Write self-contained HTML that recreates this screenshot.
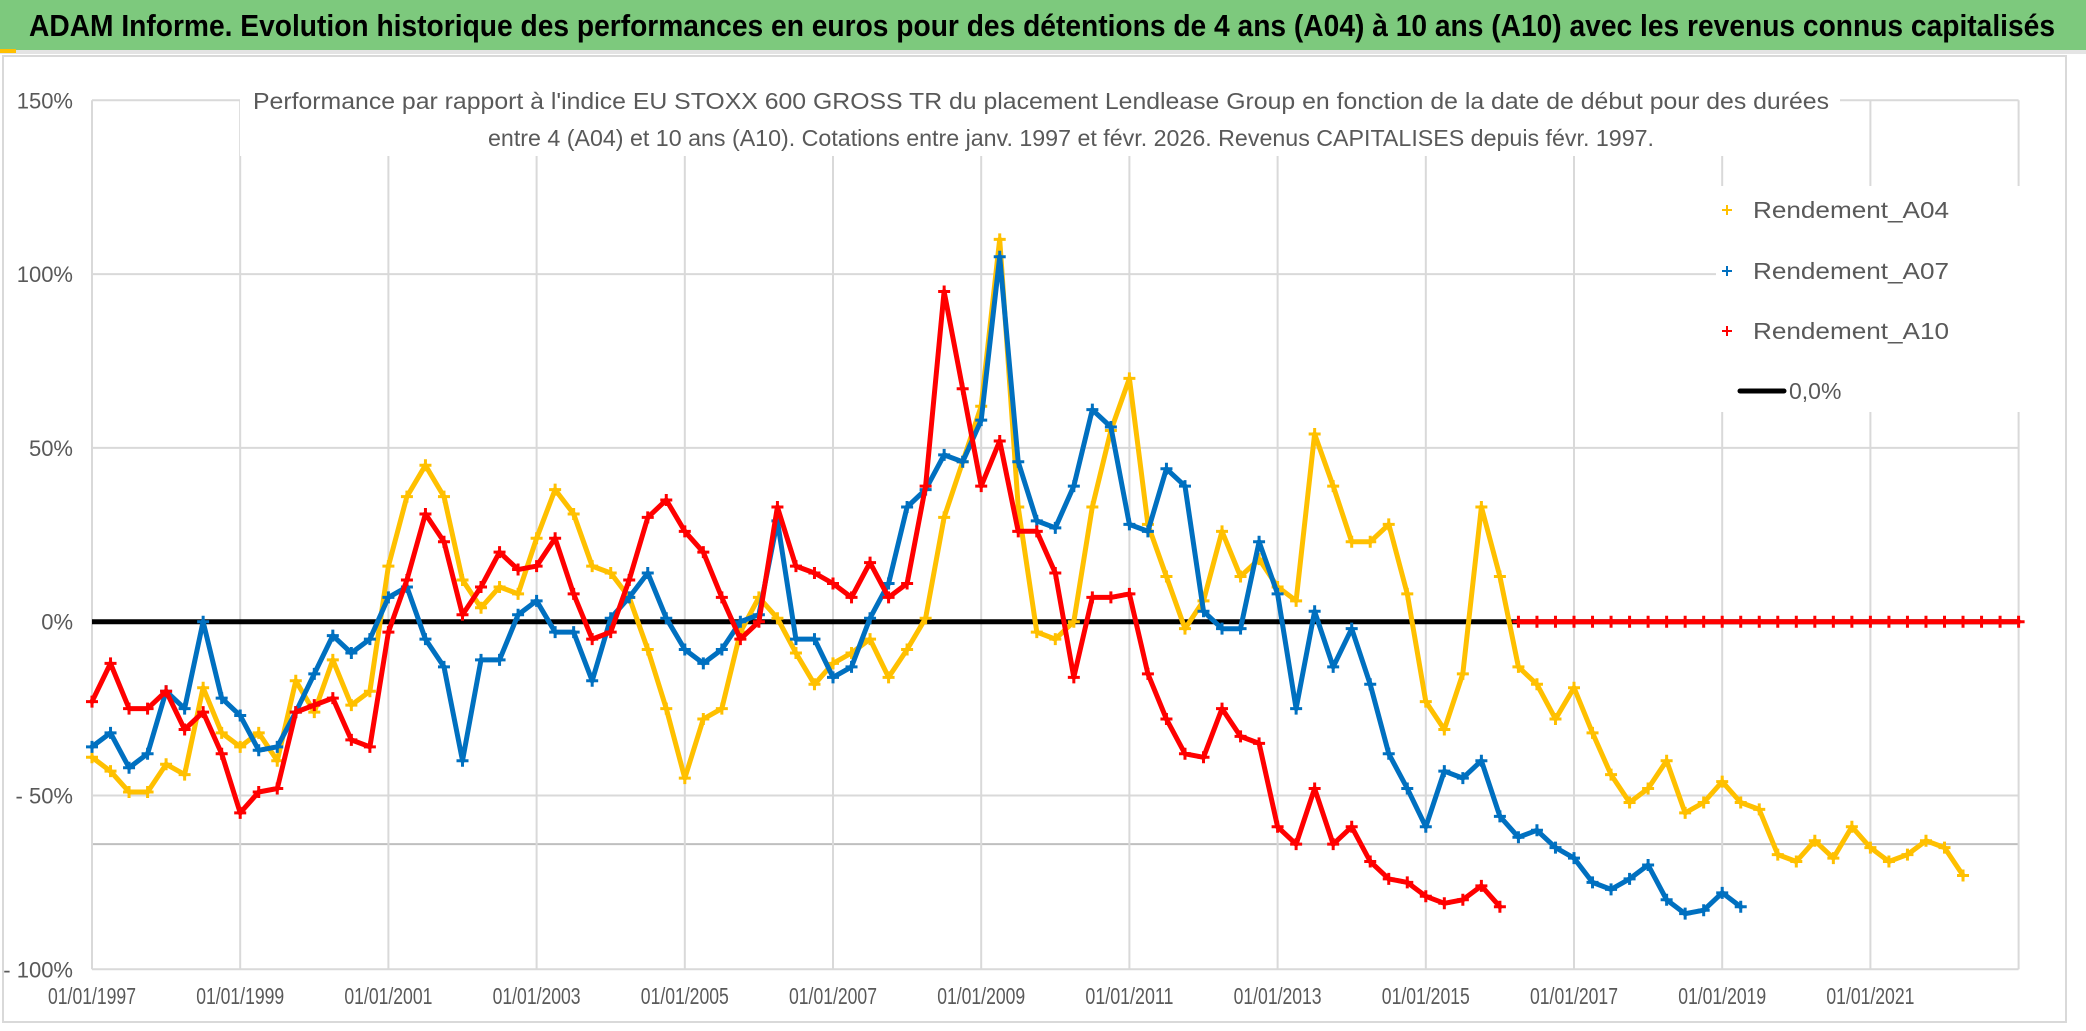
<!DOCTYPE html>
<html><head><meta charset="utf-8">
<style>
html,body{margin:0;padding:0;background:#fff;}
svg{display:block;}
text{font-family:"Liberation Sans Narrow","Liberation Sans",sans-serif;}
</style></head>
<body>
<svg id="chart" width="2086" height="1031" viewBox="0 0 2086 1031" xmlns="http://www.w3.org/2000/svg">
  <rect x="0" y="0" width="2086" height="1031" fill="#ffffff"/>
  <rect x="3" y="56" width="2063" height="966" fill="none" stroke="#d9d9d9" stroke-width="2"/>
  <rect x="0" y="0" width="2086" height="50" fill="#7dc97d"/>
  <rect x="0" y="50" width="2086" height="4" fill="#e4e4e4"/>
  <rect x="0" y="49" width="16" height="4" fill="#ffc000"/>
  <text x="29" y="36" font-size="31" font-weight="bold" fill="#000" textLength="2026" lengthAdjust="spacingAndGlyphs">ADAM Informe. Evolution historique des performances en euros pour des détentions de 4 ans (A04) à 10 ans (A10) avec les revenus connus capitalisés</text>
  <g id="grid"></g>
  <g id="marks"></g>
  <rect x="240" y="80" width="1600" height="76" fill="#ffffff"/>
  <text x="253" y="109" font-size="23" fill="#595959" textLength="1576" lengthAdjust="spacingAndGlyphs">Performance  par rapport à l'indice EU STOXX 600 GROSS TR  du placement Lendlease Group en fonction de la date de début pour des durées</text>
  <text x="488" y="146" font-size="23" fill="#595959" textLength="1166" lengthAdjust="spacingAndGlyphs">entre 4 (A04) et 10 ans (A10). Cotations entre janv. 1997 et févr. 2026. Revenus CAPITALISES depuis févr. 1997.</text>
  <g id="axes"></g>
  <g id="legend">
    <rect x="1716" y="186" width="306" height="226" fill="#ffffff"/>
    <g>
      <path d="M1722 210h10M1727 205v10" stroke="#ffc000" stroke-width="2"/>
      <text x="1753" y="218" font-size="23" fill="#595959" textLength="196" lengthAdjust="spacingAndGlyphs">Rendement_A04</text>
    </g>
    <g>
      <path d="M1722 271h10M1727 266v10" stroke="#0070c0" stroke-width="2"/>
      <text x="1753" y="279" font-size="23" fill="#595959" textLength="196" lengthAdjust="spacingAndGlyphs">Rendement_A07</text>
    </g>
    <g>
      <path d="M1722 331h10M1727 326v10" stroke="#ff0000" stroke-width="2"/>
      <text x="1753" y="339" font-size="23" fill="#595959" textLength="196" lengthAdjust="spacingAndGlyphs">Rendement_A10</text>
    </g>
    <g>
      <line x1="1740" y1="391" x2="1784" y2="391" stroke="#000" stroke-width="5" stroke-linecap="round"/>
      <text x="1789" y="399" font-size="23" fill="#595959">0,0%</text>
    </g>
  </g>
</svg>
<script>
const startYear = 1997;
const stepYears = 0.25;
const yTicks = [150, 100, 50, 0, -50, -100];
const yTickLabels = ["150%", "100%", "50%", "0%", "- 50%", "- 100%"];
const xTickYears = [1997,1999,2001,2003,2005,2007,2009,2011,2013,2015,2017,2019,2021];
const xTickLabels = ["01/01/1997","01/01/1999","01/01/2001","01/01/2003","01/01/2005","01/01/2007","01/01/2009","01/01/2011","01/01/2013","01/01/2015","01/01/2017","01/01/2019","01/01/2021"];
const refLineValue = -64;
const a04 = [-39,-43,-49,-49, -41,-44,-19,-32, -36,-32,-40,-17, -26,-11,-24,-20, 16,36,45,36, 12,4,10,8, 24,38,31,16, 14,7,-8,-25, -45,-28,-25,-3, 7,1,-9,-18, -12,-9,-5,-16, -8,1,30,46, 62,110,33,-3, -5,0,33,55, 70,28,13,-2, 6,26,13,18, 10,6,54,39, 23,23,28,8, -23,-31,-15,33, 13,-13,-18,-28, -19,-32,-44,-52, -48,-40,-55,-52, -46,-52,-54,-67, -69,-63,-68,-59, -65,-69,-67,-63, -65,-73];
const a07 = [-36,-32,-42,-38, -20,-25,0,-22, -27,-37,-36,-26, -15,-4,-9,-5, 7,10,-5,-13, -40,-11,-11,2, 6,-3,-3,-17, 1,7,14,1, -8,-12,-8,0, 2,29,-5,-5, -16,-13,1,11, 33,38,48,46, 58,105,46,29, 27,39,61,56, 28,26,44,39, 3,-2,-2,23, 8,-25,3,-13, -2,-18,-38,-48, -59,-43,-45,-40, -56,-62,-60,-65, -68,-75,-77,-74, -70,-80,-84,-83, -78,-82];
const a10 = [-23,-12,-25,-25, -20,-31,-26,-38, -55,-49,-48,-26, -24,-22,-34,-36, -3,12,31,23, 2,10,20,15, 16,24,8,-5, -3,12,30,35, 26,20,7,-5, 0,33,16,14, 11,7,17,7, 11,39,95,67, 39,52,26,26, 14,-16,7,7, 8,-15,-28,-38, -39,-25,-33,-35, -59,-64,-48,-64, -59,-69,-74,-75, -79,-81,-80,-76, -82, 0,0,0,0, 0,0,0,0, 0,0,0,0, 0,0,0,0, 0,0,0,0, 0,0,0,0, 0,0,0,0];

const NS = "http://www.w3.org/2000/svg";
const X0 = 92, PX_PER_YEAR = 74.1, XEND_YEAR = 2023;
const Y0 = 621.7, PX_PER_PCT = 3.476;
const MAX_TRAIL_JUMP = 80;
function xScale(year){ return X0 + (year - startYear) * PX_PER_YEAR; }
function yScale(p){ return Y0 - p * PX_PER_PCT; }
function mk(tag, attrs, parent){ const e = document.createElementNS(NS, tag); for (const k in attrs) e.setAttribute(k, attrs[k]); parent.appendChild(e); return e; }

const grid = document.getElementById('grid');
const axes = document.getElementById('axes');
const marks = document.getElementById('marks');
const xRight = xScale(XEND_YEAR);

yTicks.forEach((t, i) => {
  const l = mk('line', {x1: X0, x2: xRight, y1: yScale(t), y2: yScale(t), stroke: '#d9d9d9', 'stroke-width': 2}, grid);
  
  
  const tx = mk('text', {x: 73, y: yScale(t) + 8, 'font-size': 22, fill: '#595959', 'text-anchor': 'end'}, axes);
  tx.textContent = yTickLabels[i];
  
  
});
const ref = mk('line', {x1: X0, x2: xRight, y1: yScale(refLineValue), y2: yScale(refLineValue), stroke: '#bfbfbf', 'stroke-width': 2}, grid);



xTickYears.forEach((yr, i) => {
  const l = mk('line', {x1: xScale(yr), x2: xScale(yr), y1: yScale(150), y2: yScale(-100), stroke: '#d9d9d9', 'stroke-width': 2}, grid);
  
  
  const tx = mk('text', {x: xScale(yr) - 44, y: 1004, 'font-size': 23, fill: '#595959', textLength: 88, lengthAdjust: 'spacingAndGlyphs'}, axes);
  tx.textContent = xTickLabels[i];
  
  
});
const lastGrid = mk('line', {x1: xRight, x2: xRight, y1: yScale(150), y2: yScale(-100), stroke: '#d9d9d9', 'stroke-width': 2}, grid);



const zero = mk('line', {x1: X0, x2: xRight, y1: yScale(0), y2: yScale(0), stroke: '#000', 'stroke-width': 5}, marks);



function drawSeries(vals, color, name){
  const g = mk('g', {}, marks);
  
  
  let d = '';
  vals.forEach((v, i) => {
    const x = xScale(startYear + i * stepYears).toFixed(1), y = yScale(v).toFixed(1);
    const brk = i === 0 || Math.abs(v - vals[i - 1]) > MAX_TRAIL_JUMP;
    d += (brk ? 'M' : 'L') + x + ' ' + y + ' ';
  });
  const pl = mk('path', {d: d, fill: 'none', stroke: color, 'stroke-width': 5, 'stroke-linejoin': 'round', 'stroke-linecap': 'round'}, g);
  
  
  vals.forEach((v, i) => {
    const x = xScale(startYear + i * stepYears), y = yScale(v);
    const p = mk('path', {d: `M${x-6} ${y}h12M${x} ${y-6}v12`, stroke: color, 'stroke-width': 3}, g);
    
    
  });
}
drawSeries(a04, '#ffc000', 'series-a04');
drawSeries(a07, '#0070c0', 'series-a07');
drawSeries(a10, '#ff0000', 'series-a10');
</script>
</body></html>
